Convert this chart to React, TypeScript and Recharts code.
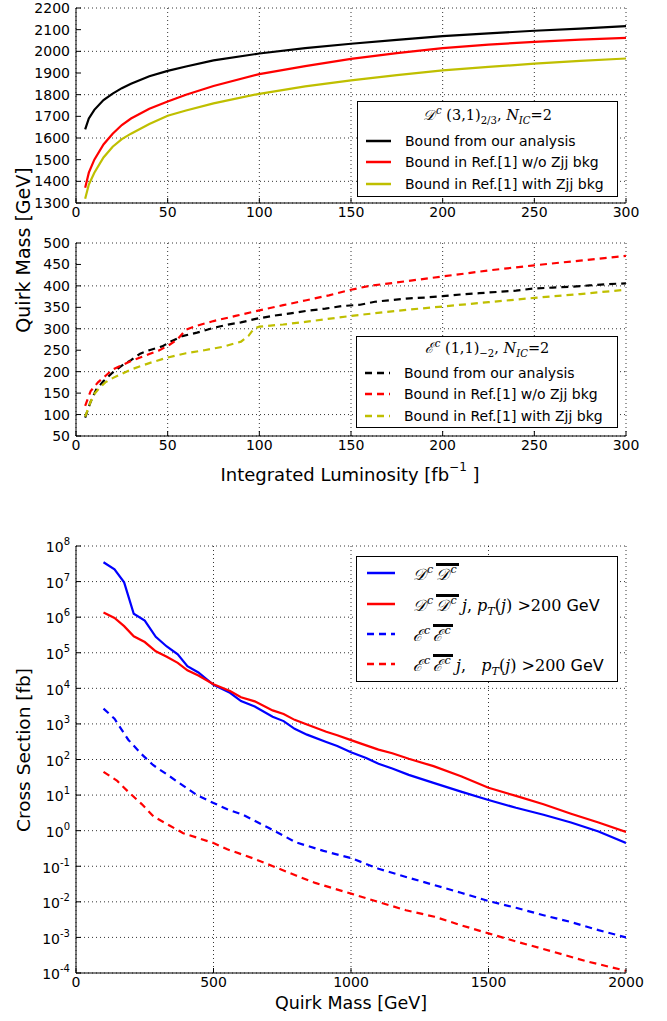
import React from 'react';
import { LineChart, Line, XAxis, YAxis, CartesianGrid } from 'recharts';

const SANS = "'DejaVu Sans', sans-serif";
const SERIF = "'DejaVu Serif', 'Liberation Serif', serif";
const BLACK = '#000000';
const RED = '#ff0000';
const OLIVE = '#bfbf00';
const BLUE = '#0000ff';

// ---------- Top panel: D^c (3,1)_{2/3} ----------
const lumiTop = [5, 7, 10, 15, 20, 25, 30, 40, 50, 60, 75, 100, 125, 150, 175, 200, 225, 250, 275, 300];
const blackTop = [1640, 1690, 1730, 1775, 1805, 1830, 1850, 1885, 1910, 1930, 1958, 1990, 2015, 2035, 2053, 2070, 2083, 2095, 2105, 2116];
const redTop = [1370, 1440, 1500, 1570, 1620, 1660, 1690, 1735, 1768, 1800, 1840, 1895, 1932, 1965, 1992, 2015, 2031, 2044, 2054, 2062];
const yellowTop = [1320, 1385, 1440, 1510, 1560, 1595, 1620, 1665, 1703, 1727, 1760, 1804, 1838, 1866, 1890, 1912, 1928, 1943, 1956, 1967];

// ---------- Middle panel: E^c (1,1)_{-2} ----------
const blackMidX = [5, 8, 11, 15, 20, 25, 30, 35, 40, 47, 52, 58, 66, 75, 82, 90, 98, 107, 117, 126, 136, 145, 155, 163, 172, 182, 191, 200, 210, 220, 230, 240, 250, 260, 270, 280, 290, 300];
const blackMidY = [93, 130, 158, 178, 198, 214, 227, 242, 250, 259, 271, 283, 291, 302, 309, 315, 323, 330, 336, 342, 347, 353, 356, 363, 367, 371, 373, 376, 380, 383, 386, 389, 394, 396, 398, 401, 404, 406];
const redMidX = [5, 8, 12, 16, 20, 25, 30, 35, 40, 45, 50, 55, 60, 65, 75, 87, 100, 113, 125, 138, 150, 160, 175, 200, 225, 250, 275, 300];
const redMidY = [120, 155, 175, 190, 205, 215, 225, 233, 241, 249, 260, 274, 298, 306, 318, 330, 343, 355, 366, 378, 391, 400, 408, 422, 436, 448, 459, 470];
const yellowMidX = [5, 8, 10, 13, 16, 20, 25, 30, 40, 50, 60, 70, 80, 90, 94, 97, 100, 113, 125, 150, 175, 200, 225, 250, 275, 300];
const yellowMidY = [95, 130, 148, 163, 175, 185, 195, 205, 220, 233, 243, 250, 258, 270, 283, 300, 305, 310, 316, 330, 342, 352, 362, 372, 381, 391];

// ---------- Bottom panel: cross sections ----------
const ddMass = [100, 140, 175, 210, 250, 290, 330, 370, 405, 445, 500, 560, 600, 650, 715, 755, 795, 840, 910, 950, 1000, 1055, 1100, 1150, 1210, 1300, 1400, 1500, 1600, 1700, 1800, 1900, 2000];
const ddXsec = [3.5e7, 2.2e7, 9.5e6, 1.25e6, 8e5, 2.8e5, 1.5e5, 9e4, 4.2e4, 2.8e4, 1.25e4, 7.5e3, 4.4e3, 3.1e3, 1.6e3, 1.2e3, 7.3e2, 5e2, 3.1e2, 2.4e2, 1.6e2, 1.1e2, 76, 56, 37, 22, 12.5, 7.3, 4.4, 2.8, 1.7, 0.95, 0.45];
const ddjXsec = [1.35e6, 9.5e5, 5.6e5, 2.9e5, 2e5, 1.1e5, 7.7e4, 5.2e4, 3.2e4, 2.3e4, 1.3e4, 8.4e3, 5.6e3, 4.3e3, 2.4e3, 1.9e3, 1.3e3, 9.6e2, 6e2, 4.8e2, 3.5e2, 2.5e2, 1.9e2, 1.5e2, 1.05e2, 65, 34, 16, 9.5, 5.5, 3.0, 1.7, 0.92];
const eeMass = [100, 140, 190, 235, 280, 340, 375, 440, 500, 550, 607, 700, 800, 900, 1000, 1100, 1200, 1300, 1400, 1500, 1600, 1700, 1800, 1900, 2000];
const eeXsec = [2.7e3, 1.4e3, 3.6e2, 1.5e2, 70, 34, 22, 10, 6, 4, 2.8, 1.2, 0.47, 0.27, 0.17, 0.085, 0.05, 0.03, 0.018, 0.0105, 0.0068, 0.0042, 0.0027, 0.0016, 0.001];
const eejMass = [100, 150, 189, 240, 282, 340, 390, 450, 500, 550, 607, 650, 716, 800, 870, 1000, 1118, 1200, 1304, 1400, 1500, 1600, 1738, 1850, 2000];
const eejXsec = [45, 25, 12.6, 5.5, 2.5, 1.4, 0.85, 0.6, 0.45, 0.3, 0.21, 0.16, 0.1, 0.055, 0.034, 0.017, 0.009, 0.0058, 0.0038, 0.0022, 0.0013, 0.00077, 0.00039, 0.00022, 0.000115];

const lumiTicks = [0, 50, 100, 150, 200, 250, 300];
const topTicks = [1300, 1400, 1500, 1600, 1700, 1800, 1900, 2000, 2100, 2200];
const midTicks = [50, 100, 150, 200, 250, 300, 350, 400, 450, 500];
const massTicks = [0, 500, 1000, 1500, 2000];
const xsecTicks = [1e-4, 1e-3, 1e-2, 1e-1, 1, 1e1, 1e2, 1e3, 1e4, 1e5, 1e6, 1e7, 1e8];

const topData = lumiTop.map((x, i) => ({ x, black: blackTop[i], red: redTop[i], yellow: yellowTop[i] }));
const pairs = (xs: number[], ys: number[]) => xs.map((x, i) => ({ x, y: ys[i] }));
const blackMid = pairs(blackMidX, blackMidY);
const redMid = pairs(redMidX, redMidY);
const yellowMid = pairs(yellowMidX, yellowMidY);
const dd = pairs(ddMass, ddXsec);
const ddj = pairs(ddMass, ddjXsec);
const ee = pairs(eeMass, eeXsec);
const eej = pairs(eejMass, eejXsec);

const tickStyle = { fill: '#000', fontSize: 14, fontFamily: SANS };
const axisLine = { stroke: '#000', strokeWidth: 1 };
const tickLine = { stroke: '#000', strokeWidth: 1 };

const LogTick = (props: any) => {
  const { x, y, payload } = props;
  const e = Math.round(Math.log10(payload.value));
  return (
    <text x={x} y={y} textAnchor="end" fill="#000" fontFamily={SANS} fontSize={14} dy="0.45em">
      10<tspan dy={-7} fontSize={10}>{e}</tspan>
    </text>
  );
};

const M = ({ children }: any) => <span style={{ fontFamily: SERIF, fontStyle: 'italic' }}>{children}</span>;
const R = ({ children }: any) => <span style={{ fontFamily: SERIF }}>{children}</span>;
const Sup = ({ children }: any) => (
  <span style={{ fontSize: '0.7em', position: 'relative', top: '-0.6em', marginLeft: 1 }}>{children}</span>
);
const Sub = ({ children }: any) => (
  <span style={{ fontSize: '0.7em', position: 'relative', top: '0.35em' }}>{children}</span>
);
const Bar = ({ children }: any) => (
  <span style={{ display: 'inline-block', borderTop: '3px solid #000', lineHeight: '15px', paddingTop: 1, paddingRight: 2 }}>{children}</span>
);

const Dc = () => (<span style={{ fontFamily: SERIF, fontStyle: 'italic' }}>𝒟<Sup>c</Sup></span>);
const Ec = () => (<span style={{ fontFamily: SERIF, fontStyle: 'italic' }}>ℰ<Sup>c</Sup></span>);

type Item = { color: string; dash?: string; label: any };

const LegendBox = ({ left, top, width, height, title, titleTop, rows, rowTops, sx0, sx1, tx, fontSize }: any) => (
  <div
    style={{
      position: 'absolute', left, top, width, height, border: '1px solid #000', background: '#fff',
      boxSizing: 'border-box', fontFamily: SANS, fontSize: fontSize || 14, color: '#000',
    }}
  >
    {title && (
      <div style={{ position: 'absolute', left: 0, width: '100%', top: titleTop - 10, lineHeight: '20px', textAlign: 'center', whiteSpace: 'nowrap', fontSize: 14.5 }}>
        {title}
      </div>
    )}
    {rows.map((it: Item, i: number) => (
      <div key={i} style={{ position: 'absolute', left: 0, top: rowTops[i], height: 0 }}>
        <svg style={{ position: 'absolute', left: sx0, top: -2 }} width={sx1 - sx0} height={4}>
          <line x1={0} y1={2} x2={sx1 - sx0} y2={2} stroke={it.color} strokeWidth={2.5} strokeDasharray={it.dash} />
        </svg>
        <div style={{ position: 'absolute', left: tx, top: -10, lineHeight: '20px', whiteSpace: 'nowrap' }}>{it.label}</div>
      </div>
    ))}
  </div>
);

const topRows: Item[] = [
  { color: BLACK, label: 'Bound from our analysis' },
  { color: RED, label: 'Bound in Ref.[1] w/o Zjj bkg' },
  { color: OLIVE, label: 'Bound in Ref.[1] with Zjj bkg' },
];
const midRows: Item[] = [
  { color: BLACK, dash: '7 5', label: 'Bound from our analysis' },
  { color: RED, dash: '7 5', label: 'Bound in Ref.[1] w/o Zjj bkg' },
  { color: OLIVE, dash: '7 5', label: 'Bound in Ref.[1] with Zjj bkg' },
];
const botRows: Item[] = [
  { color: BLUE, label: (<span><Dc />{'\u2009'}<Bar><Dc /></Bar></span>) },
  { color: RED, label: (<span><Dc />{'\u2009'}<Bar><Dc /></Bar>{'\u2009'}<M>j</M><R>, </R><M>p</M><M><Sub>T</Sub></M><R>(</R><M>j</M><R>) &gt;200</R> GeV</span>) },
  { color: BLUE, dash: '7 5', label: (<span><Ec />{'\u2009'}<Bar><Ec /></Bar></span>) },
  { color: RED, dash: '7 5', label: (<span><Ec />{'\u2009'}<Bar><Ec /></Bar>{'\u2009'}<M>j</M><R>,&nbsp;&nbsp;&nbsp;</R><M>p</M><M><Sub>T</Sub></M><R>(</R><M>j</M><R>) &gt;200</R> GeV</span>) },
];

const topTitle = (<span><Dc /> <R>(3,1)</R><R><Sub>2/3</Sub></R><R>, </R><M>N</M><M><Sub>IC</Sub></M><R>=2</R></span>);
const midTitle = (<span><Ec /> <R>(1,1)</R><R><Sub>−2</Sub></R><R>, </R><M>N</M><M><Sub>IC</Sub></M><R>=2</R></span>);

const Frame = ({ xDomain, xTicks, yDomain, yTicks, scale }: any) => [
  <XAxis key="xt" xAxisId="t" orientation="top" type="number" dataKey="x" domain={xDomain} ticks={xTicks}
    height={0} tick={false} tickSize={-5} axisLine={axisLine} tickLine={tickLine} allowDataOverflow />,
  <YAxis key="yr" yAxisId="r" orientation="right" type="number" scale={scale || 'auto'} domain={yDomain} ticks={yTicks}
    width={0} tick={false} tickSize={-5} axisLine={axisLine} tickLine={tickLine} allowDataOverflow />,
];

export default function App() {
  return (
    <div style={{ position: 'absolute', left: 0, top: 0, width: 667, height: 1021, background: '#fff' }}>
      {/* Top panel */}
      <div style={{ position: 'absolute', left: 0, top: 0 }}>
        <LineChart width={667} height={230} data={topData} margin={{ top: 8, right: 41, bottom: 0, left: 0 }}>
          <CartesianGrid stroke="#000" strokeDasharray="1 3" strokeWidth={0.8} />
          <XAxis type="number" dataKey="x" domain={[0, 300]} ticks={lumiTicks} height={27} tick={tickStyle}
            tickSize={-5} tickMargin={9} axisLine={axisLine} tickLine={tickLine} allowDataOverflow />
          <YAxis type="number" domain={[1300, 2200]} ticks={topTicks} width={76} tick={tickStyle}
            tickSize={-5} tickMargin={11} axisLine={axisLine} tickLine={tickLine} allowDataOverflow />
          {Frame({ xDomain: [0, 300], xTicks: lumiTicks, yDomain: [1300, 2200], yTicks: topTicks })}
          <Line dataKey="black" stroke={BLACK} strokeWidth={2.2} dot={false} isAnimationActive={false} />
          <Line dataKey="red" stroke={RED} strokeWidth={2.2} dot={false} isAnimationActive={false} />
          <Line dataKey="yellow" stroke={OLIVE} strokeWidth={2.2} dot={false} isAnimationActive={false} />
        </LineChart>
        <LegendBox left={357} top={101} width={261} height={96} title={topTitle} titleTop={13}
          rows={topRows} rowTops={[39, 60, 82]} sx0={8} sx1={33} tx={47} />
      </div>

      {/* Middle panel */}
      <div style={{ position: 'absolute', left: 0, top: 228 }}>
        <LineChart width={667} height={240} margin={{ top: 15, right: 41, bottom: 0, left: 0 }}>
          <CartesianGrid stroke="#000" strokeDasharray="1 3" strokeWidth={0.8} />
          <XAxis type="number" dataKey="x" domain={[0, 300]} ticks={lumiTicks} height={32} tick={tickStyle}
            tickSize={-5} tickMargin={9} axisLine={axisLine} tickLine={tickLine} allowDataOverflow />
          <YAxis type="number" dataKey="y" domain={[50, 500]} ticks={midTicks} width={76} tick={tickStyle}
            tickSize={-5} tickMargin={11} axisLine={axisLine} tickLine={tickLine} allowDataOverflow />
          {Frame({ xDomain: [0, 300], xTicks: lumiTicks, yDomain: [50, 500], yTicks: midTicks })}
          <Line data={blackMid} dataKey="y" stroke={BLACK} strokeWidth={2.2} strokeDasharray="7 5" dot={false} isAnimationActive={false} />
          <Line data={redMid} dataKey="y" stroke={RED} strokeWidth={2.2} strokeDasharray="7 5" dot={false} isAnimationActive={false} />
          <Line data={yellowMid} dataKey="y" stroke={OLIVE} strokeWidth={2.2} strokeDasharray="7 5" dot={false} isAnimationActive={false} />
        </LineChart>
        <LegendBox left={356} top={108} width={262} height={92} title={midTitle} titleTop={11}
          rows={midRows} rowTops={[36, 57, 79]} sx0={8} sx1={33} tx={47} />
      </div>

      {/* Bottom panel */}
      <div style={{ position: 'absolute', left: 0, top: 520 }}>
        <LineChart width={667} height={483} margin={{ top: 26, right: 41, bottom: 0, left: 0 }}>
          <CartesianGrid stroke="#000" strokeDasharray="1 3" strokeWidth={0.8} />
          <XAxis type="number" dataKey="x" domain={[0, 2000]} ticks={massTicks} height={30} tick={tickStyle}
            tickSize={-5} tickMargin={9} axisLine={axisLine} tickLine={tickLine} allowDataOverflow />
          <YAxis type="number" dataKey="y" scale="log" domain={[1e-4, 1e8]} ticks={xsecTicks} width={76}
            tick={<LogTick />} tickSize={-5} tickMargin={11} axisLine={axisLine} tickLine={tickLine} allowDataOverflow />
          {Frame({ xDomain: [0, 2000], xTicks: massTicks, yDomain: [1e-4, 1e8], yTicks: xsecTicks, scale: 'log' })}
          <Line data={dd} dataKey="y" stroke={BLUE} strokeWidth={2.2} dot={false} isAnimationActive={false} />
          <Line data={ddj} dataKey="y" stroke={RED} strokeWidth={2.2} dot={false} isAnimationActive={false} />
          <Line data={ee} dataKey="y" stroke={BLUE} strokeWidth={2.2} strokeDasharray="7 5" dot={false} isAnimationActive={false} />
          <Line data={eej} dataKey="y" stroke={RED} strokeWidth={2.2} strokeDasharray="7 5" dot={false} isAnimationActive={false} />
        </LineChart>
        <LegendBox left={356} top={36} width={262} height={126} title={null} titleTop={0} fontSize={16}
          rows={botRows} rowTops={[16, 47, 77, 107]} sx0={10} sx1={38} tx={56} />
      </div>

      {/* Axis titles */}
      <svg width={667} height={1021} style={{ position: 'absolute', left: 0, top: 0, pointerEvents: 'none' }}>
        <text x={23} y={250} transform="rotate(-90 23 250)" textAnchor="middle" dominantBaseline="central"
          fontFamily={SANS} fontSize={19} fill="#000">Quirk Mass [GeV]</text>
        <text x={350} y={474} textAnchor="middle" dominantBaseline="central" fontFamily={SANS} fontSize={18} fill="#000">
          Integrated Luminosity  [fb<tspan dy={-7} fontSize={12}>−1</tspan><tspan dy={7}> ]</tspan>
        </text>
        <text x={23} y={750} transform="rotate(-90 23 750)" textAnchor="middle" dominantBaseline="central"
          fontFamily={SANS} fontSize={18.5} fill="#000">Cross Section [fb]</text>
        <text x={351} y={1003} textAnchor="middle" dominantBaseline="central" fontFamily={SANS} fontSize={17.5} fill="#000">
          Quirk Mass [GeV]
        </text>
      </svg>
    </div>
  );
}
